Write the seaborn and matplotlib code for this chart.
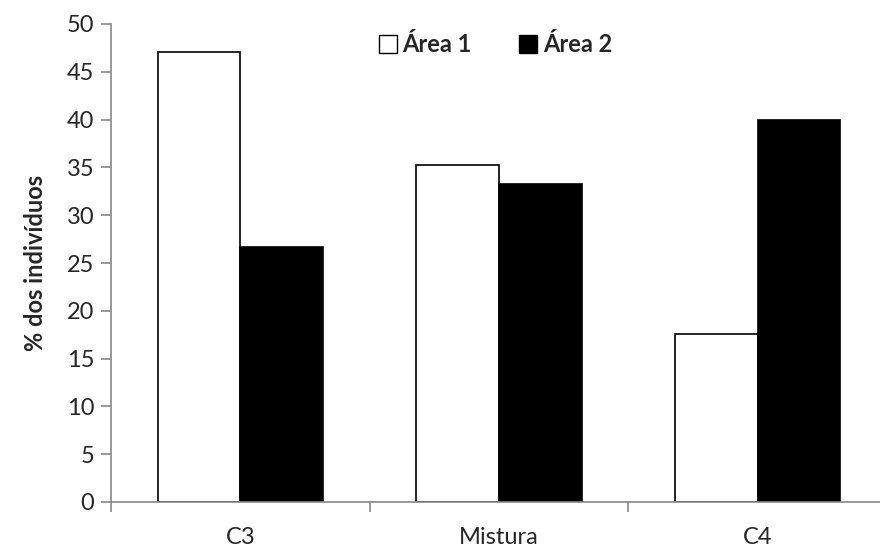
import numpy as np
import pandas as pd
import matplotlib
matplotlib.use("Agg")
import matplotlib.pyplot as plt
import seaborn as sns
from matplotlib.patches import Patch

# Dados
categorias = ["C3", "Mistura", "C4"]
area1 = [47.1, 35.3, 17.6]
area2 = [26.7, 33.3, 40.0]
series = ["Área 1", "Área 2"]

df = pd.DataFrame({
    "categoria": categorias * 2,
    "valor": area1 + area2,
    "area": [series[0]] * 3 + [series[1]] * 3,
})

sns.set_style("white")
plt.rcParams["font.family"] = ["Lato", "DejaVu Sans"]

fig = plt.figure(figsize=(8.8, 5.52), dpi=100)
ax = fig.add_axes([111 / 880, 50 / 552, 769 / 880, 478 / 552])

sns.barplot(data=df, x="categoria", y="valor", hue="area", order=categorias,
            hue_order=series, palette=["white", "black"], width=0.64,
            edgecolor="black", linewidth=1.2, legend=False, ax=ax)

ax.set_ylim(0, 50)
ax.set_yticks(np.arange(0, 51, 5))
ax.set_xlim(-0.5, 2.5 - 7 / 258.5)
ax.set_xlabel("")
ax.set_ylabel("% dos indivíduos", fontsize=17, fontweight="bold", labelpad=14)

# ticks do eixo x nas fronteiras das categorias
ax.set_xticks([0, 1, 2])
ax.set_xticks([-0.5, 0.5, 1.5], minor=True)
ax.tick_params(axis="x", which="major", bottom=False, length=0, pad=18, labelsize=17)
ax.tick_params(axis="x", which="minor", bottom=True, length=7, color="#888888", width=1.2)
ax.tick_params(axis="y", left=True, length=7, color="#888888", width=1.2,
               labelsize=17, pad=5)

for s in ["top", "right"]:
    ax.spines[s].set_visible(False)
for s in ["left", "bottom"]:
    ax.spines[s].set_color("#888888")
    ax.spines[s].set_linewidth(1.2)

handles = [Patch(facecolor="white", edgecolor="black", label=series[0]),
           Patch(facecolor="black", edgecolor="black", label=series[1])]
ax.legend(handles=handles, loc="upper center", bbox_to_anchor=(0.5, 1.025),
          ncol=2, frameon=False, prop={"weight": "bold", "size": 17},
          handlelength=0.75, handleheight=0.75, handletextpad=0.25,
          columnspacing=2.0)

fig.savefig("out.png", dpi=100)
